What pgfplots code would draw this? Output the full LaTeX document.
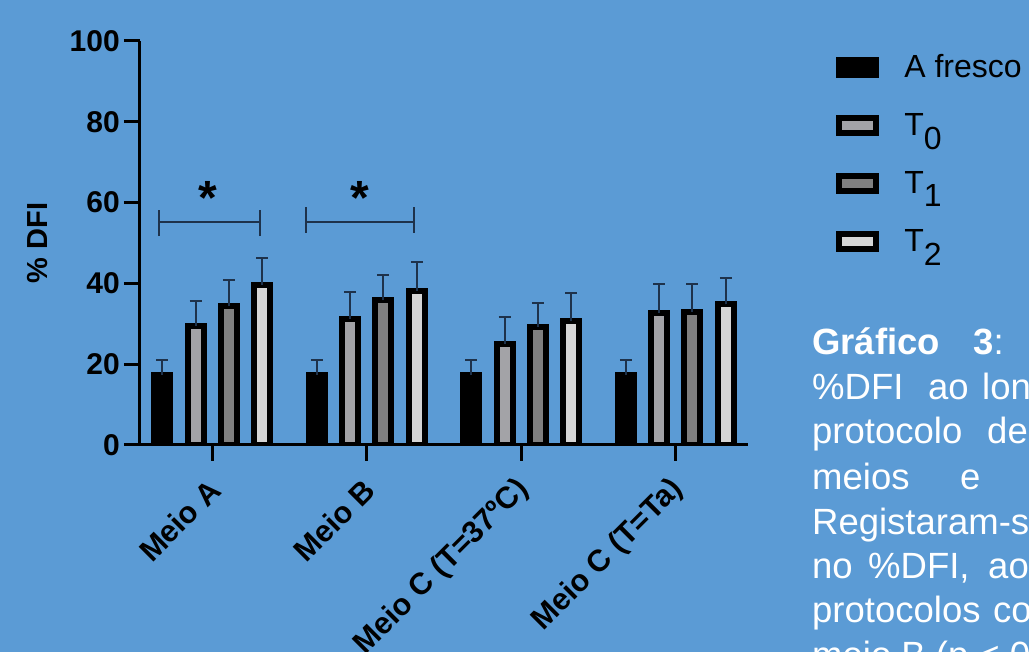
\documentclass[border=0pt]{standalone}
\usepackage{fontspec}
\setmainfont{Liberation Sans}
\usepackage{pgfplots}
\pgfplotsset{compat=1.18}
\definecolor{bg}{RGB}{91,155,213}
\definecolor{errc}{RGB}{30,50,75}
\definecolor{gTa}{RGB}{163,163,167}
\definecolor{gTb}{RGB}{128,128,128}
\definecolor{gTc}{RGB}{213,213,213}
\newcommand{\capfont}{\fontsize{36.5}{36.5}\selectfont}
\begin{document}
\begin{tikzpicture}[x=1pt,y=1pt]
\path[use as bounding box] (-140,-207) rectangle (889,445);
\fill[bg] (-140,-207) rectangle (889,445);
\clip (-140,-207) rectangle (889,445);
\begin{axis}[
  at={(0,0)}, anchor=south west,
  scale only axis, width=608pt, height=404pt,
  ybar=17.3pt, bar width=16pt,
  xmin=-0.468, xmax=3.467, ymin=0, ymax=100,
  axis x line*=bottom, axis y line*=left,
  axis line style={line width=3pt, black, -},
  tick align=outside, major tick length=16pt,
  major tick style={line width=3pt, black},
  xtick={0,1,2,3},
  xticklabels={Meio A, Meio B, Meio C (T=37ºC), Meio C (T=Ta)},
  ytick={0,20,40,60,80,100},
  ticklabel style={font=\bfseries\fontsize{30}{30}\selectfont},
  /pgf/number format/assume math mode=true,
  xticklabel style={rotate=45, anchor=east, inner sep=2pt, yshift=-19pt, xshift=-13pt, font=\bfseries\fontsize{30.5}{30.5}\selectfont},
  yticklabel style={inner sep=4pt},
  ylabel={\% DFI},
  ylabel style={font=\bfseries\fontsize{29}{29}\selectfont, at={(axis description cs:-0.169,0.5)}, anchor=center},
  legend style={at={(axis description cs:1.145,0.965)}, anchor=north west, draw=none, fill=none,
    font=\fontsize{32}{32}\selectfont, row sep=34pt, inner sep=0pt,
    nodes={inner sep=0pt, text height=22pt, text depth=2pt}},
  legend cell align=left,
  error bars/y dir=plus, error bars/y explicit,
  error bars/error bar style={line width=2pt, errc},
  error bars/error mark options={line width=2pt, errc, mark size=6pt, rotate=90},
]
\addplot[draw=black, line width=6pt, fill=black,
  legend image code/.code={\draw[fill=black, draw=black, line width=6pt] (0pt,-7.5pt) rectangle (37pt,7.5pt);}]
  coordinates {(0,17.4) +- (0,3.6) (1,17.4) +- (0,3.6) (2,17.4) +- (0,3.6) (3,17.4) +- (0,3.6)};
\addlegendentry{\hspace{25pt}A fresco}
\addplot[draw=black, line width=6pt, fill=gTa,
  legend image code/.code={\draw[fill=gTa, draw=black, line width=6pt] (0pt,-7.5pt) rectangle (37pt,7.5pt);}]
  coordinates {(0,29.5) +- (0,6.2) (1,31.2) +- (0,6.6) (2,25.0) +- (0,6.6) (3,32.7) +- (0,7.1)};
\addlegendentry{\hspace{25pt}T$_{\textrm{0}}$}
\addplot[draw=black, line width=6pt, fill=gTb,
  legend image code/.code={\draw[fill=gTb, draw=black, line width=6pt] (0pt,-7.5pt) rectangle (37pt,7.5pt);}]
  coordinates {(0,34.4) +- (0,6.5) (1,35.8) +- (0,6.3) (2,29.3) +- (0,5.8) (3,33.0) +- (0,6.9)};
\addlegendentry{\hspace{25pt}T$_{\textrm{1}}$}
\addplot[draw=black, line width=6pt, fill=gTc,
  legend image code/.code={\draw[fill=gTc, draw=black, line width=6pt] (0pt,-7.5pt) rectangle (37pt,7.5pt);}]
  coordinates {(0,39.6) +- (0,6.7) (1,38.2) +- (0,7.0) (2,30.6) +- (0,6.9) (3,34.8) +- (0,6.5)};
\addlegendentry{\hspace{25pt}T$_{\textrm{2}}$}
% significance brackets
\draw[errc, line width=2pt] (axis cs:-0.345,55.2) -- (axis cs:0.309,55.2);
\draw[errc, line width=2pt] (axis cs:-0.345,51.7) -- (axis cs:-0.345,58.2);
\draw[errc, line width=2pt] (axis cs:0.309,51.7) -- (axis cs:0.309,58.2);
\draw[errc, line width=2pt] (axis cs:0.606,55.3) -- (axis cs:1.307,55.3);
\draw[errc, line width=2pt] (axis cs:0.606,52.5) -- (axis cs:0.606,58.9);
\draw[errc, line width=2pt] (axis cs:1.307,52.5) -- (axis cs:1.307,58.9);
\node[font=\bfseries\fontsize{48}{48}\selectfont, anchor=north, inner sep=0pt] at (axis cs:-0.026,65.2) {*};
\node[font=\bfseries\fontsize{48}{48}\selectfont, anchor=north, inner sep=0pt] at (axis cs:0.956,65.2) {*};
\end{axis}
% caption (cut off at the right edge, as in the reference)
\begin{scope}[every node/.style={anchor=base west, inner sep=0pt, text=white, font=\capfont}]
\node at (672,90) {\bfseries Gráfico};
\node at (833,90) {\textbf{3}:};
\node at (672,45) {\%DFI};
\node at (788,45) {ao};
\node at (842,45) {longo};
\node at (672,1) {protocolo};
\node at (847,1) {de};
\node at (672,-45) {meios};
\node at (820,-45) {e};
\node at (672,-90) {Registaram-se};
\node at (672,-134) {no};
\node at (728,-134) {\%DFI,};
\node at (848,-134) {ao};
\node at (672,-178) {protocolos};
\node at (853,-178) {com};
\node at (672,-223) {meio B (p < 0,05)};
\end{scope}
\end{tikzpicture}
\end{document}
